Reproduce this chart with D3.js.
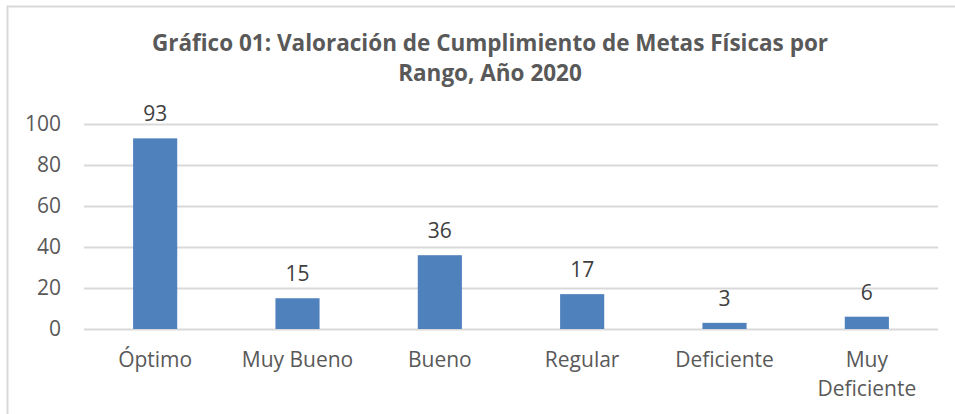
<!DOCTYPE html>
<html>
<head>
<meta charset="utf-8">
<script src="https://cdn.jsdelivr.net/npm/d3@7"></script>
<style>
  body { margin: 0; background: #fff; }
  svg text { font-family: "Open Sans", "Noto Sans", sans-serif; }
</style>
</head>
<body>
<div id="vis"></div>
<script>
// data
const CATEGORIES = ["Óptimo", "Muy Bueno", "Bueno", "Regular", "Deficiente", "Muy Deficiente"];
const VALUES = [93, 15, 36, 17, 3, 6];
const Y_TICKS = [0, 20, 40, 60, 80, 100];
const TITLE_LINES = ["Gráfico 01: Valoración de Cumplimiento de Metas Físicas por", "Rango, Año 2020"];

const FRAME_WIDTH = 955;
const FRAME_HEIGHT = 414;
const MARGINS = {left: 84, right: 17, top: 124, bottom: 85};
const VIS_WIDTH = FRAME_WIDTH - MARGINS.left - MARGINS.right;
const VIS_HEIGHT = FRAME_HEIGHT - MARGINS.top - MARGINS.bottom;

const FRAME = d3.select("#vis")
                .append("svg")
                  .attr("width", FRAME_WIDTH)
                  .attr("height", FRAME_HEIGHT);

// chart border (only top and left visible in the crop)
FRAME.append("rect")
      .attr("x", 7.5).attr("y", 6.5)
      .attr("width", 960).attr("height", 420)
      .attr("fill", "none")
      .attr("stroke", "#d9d9d9")
      .attr("stroke-width", 2);

// title
FRAME.append("g").selectAll("text")
      .data(TITLE_LINES)
      .enter()
      .append("text")
        .attr("x", 490)
        .attr("y", (d, i) => 51 + i * 30)
        .attr("text-anchor", "middle")
        .attr("font-size", "22.5px")
        .attr("font-weight", "bold")
        .attr("fill", "#595959")
        .text((d) => d);

const X_SCALE = d3.scaleBand()
                  .domain(CATEGORIES)
                  .range([0, VIS_WIDTH])
                  .paddingInner(0.69)
                  .paddingOuter(0.345);

const Y_SCALE = d3.scaleLinear()
                  .domain([0, 100])
                  .range([VIS_HEIGHT, 0]);

const VIS = FRAME.append("g")
                 .attr("transform", "translate(" + MARGINS.left + "," + MARGINS.top + ")");

// gridlines + y labels
const yAxis = VIS.append("g")
   .call(d3.axisLeft(Y_SCALE).tickValues(Y_TICKS).tickSize(-VIS_WIDTH).tickPadding(23));
yAxis.select(".domain").remove();
yAxis.selectAll(".tick line").attr("stroke", "#d9d9d9").attr("stroke-width", 2);
yAxis.selectAll(".tick text")
     .attr("font-size", "21px")
     .attr("fill", "#595959")
     .attr("font-family", "Open Sans, sans-serif");

// bars
VIS.selectAll(".bar")
   .data(VALUES)
   .enter()
   .append("rect")
     .attr("class", "bar")
     .attr("x", (d, i) => X_SCALE(CATEGORIES[i]))
     .attr("y", (d) => Y_SCALE(d))
     .attr("width", X_SCALE.bandwidth())
     .attr("height", (d) => VIS_HEIGHT - Y_SCALE(d))
     .attr("fill", "#4f81bd");

// data labels
VIS.selectAll(".lbl")
   .data(VALUES)
   .enter()
   .append("text")
     .attr("class", "lbl")
     .attr("x", (d, i) => X_SCALE(CATEGORIES[i]) + X_SCALE.bandwidth() / 2)
     .attr("y", (d) => Y_SCALE(d) - 17)
     .attr("text-anchor", "middle")
     .attr("font-size", "21px")
     .attr("fill", "#404040")
     .text((d) => d);

// x labels (wrap "Muy Deficiente")
const xLabels = VIS.selectAll(".xl")
   .data(CATEGORIES)
   .enter()
   .append("text")
     .attr("class", "xl")
     .attr("x", (d) => X_SCALE(d) + X_SCALE.bandwidth() / 2)
     .attr("y", VIS_HEIGHT + 38)
     .attr("text-anchor", "middle")
     .attr("font-size", "21px")
     .attr("fill", "#595959");

xLabels.each(function(d) {
  const lines = d === "Muy Deficiente" ? ["Muy", "Deficiente"] : [d];
  d3.select(this).selectAll("tspan")
    .data(lines)
    .enter()
    .append("tspan")
      .attr("x", X_SCALE(d) + X_SCALE.bandwidth() / 2)
      .attr("dy", (l, i) => i === 0 ? 0 : 29)
      .text((l) => l);
});
</script>
</body>
</html>
